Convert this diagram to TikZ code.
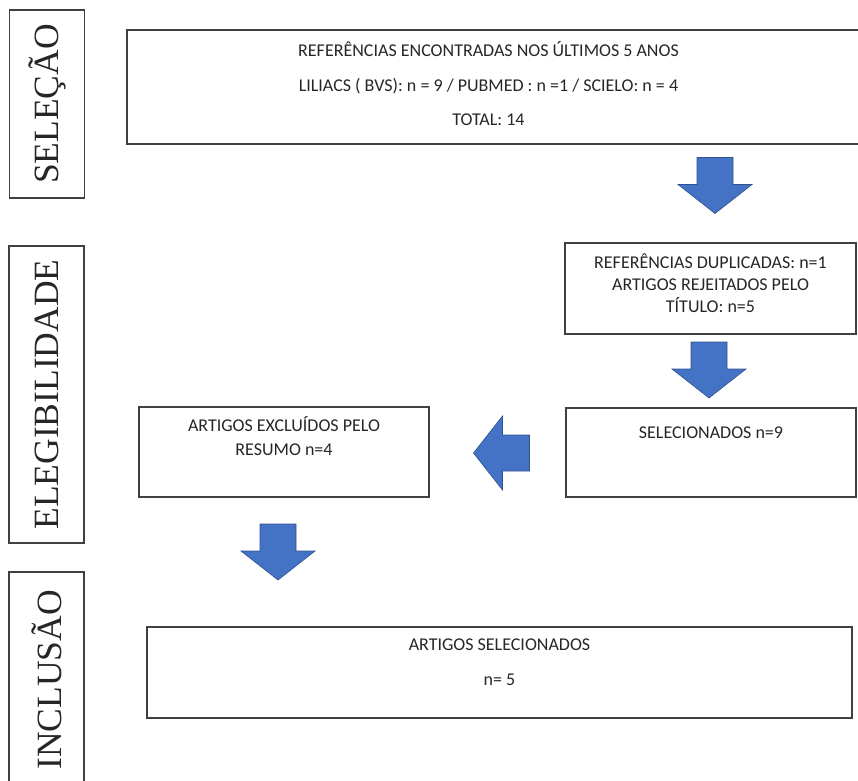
\documentclass[tikz,border=0pt]{standalone}
\usepackage{fontspec}
\setmainfont{Carlito}
\newfontfamily\sidefont{Liberation Serif}
\usepackage{xcolor}
\usepackage{tikz}
\usetikzlibrary{positioning}

\definecolor{boxline}{HTML}{404040}
\definecolor{textgray}{HTML}{262626}
\definecolor{arrowfill}{HTML}{4472C4}
\definecolor{arrowline}{HTML}{2F528F}

\tikzset{
  stagebox/.style={draw=boxline, line width=1.2pt, rotate=90, inner sep=0pt,
    minimum height=75pt, text=textgray, font=\sidefont\fontsize{35.5}{36}\selectfont},
  flowbox/.style={draw=boxline, line width=1.5pt, inner sep=0pt},
  flowtext/.style={align=center, inner sep=0pt, text=textgray,
    font=\fontsize{18}{22}\selectfont},
  blockdown/.pic={
    \filldraw[fill=arrowfill, draw=arrowline, line width=0.6pt]
      (-18,-28) -- (18,-28) -- (18,-1) -- (37,-1) -- (0,28) -- (-37,-1) -- (-18,-1) -- cycle;
  }
}

\begin{document}
\begin{tikzpicture}[x=1pt, y=-1pt]
  \useasboundingbox (0,0) rectangle (858,780);

  % stages on the left
  \node[stagebox, minimum width=188pt] (selecao) at (47,104) {SELEÇÃO};
  \node[stagebox, minimum width=297pt] (elegib) at (46.5,394.5) {ELEGIBILIDADE};
  \node[stagebox, minimum width=216pt] (inclusao) at (46.5,680) {INCLUSÃO};

  % search results
  \node[flowbox, minimum width=735pt, minimum height=114pt] (refs) at (494.5,87) {};
  \node[flowtext, below=12.5pt of refs.north, xshift=-6pt] (refstext)
    {REFERÊNCIAS ENCONTRADAS NOS ÚLTIMOS 5 ANOS\\[12.5pt]
     LILIACS ( BVS): n = 9 / PUBMED : n =1 / SCIELO: n = 4\\[12.5pt]
     TOTAL: 14};

  % eligibility
  \node[flowbox, minimum width=291pt, minimum height=91pt] (dup) at (710.5,288.5) {};
  \node[flowtext, below=11pt of dup.north] (duptext)
    {REFERÊNCIAS DUPLICADAS: n=1\\ ARTIGOS REJEITADOS PELO\\ TÍTULO: n=5};
  \node[flowbox, minimum width=290pt, minimum height=89pt] (sel) at (711,452.5) {};
  \node[flowtext, below=19pt of sel.north] (seltext) {SELECIONADOS n=9};
  \node[flowbox, minimum width=290pt, minimum height=90pt] (exc) at (284,452) {};
  \node[flowtext, below=10pt of exc.north] (exctext)
    {ARTIGOS EXCLUÍDOS PELO\\[2pt] RESUMO n=4};

  % inclusion
  \node[flowbox, minimum width=705pt, minimum height=91pt] (final) at (499.5,672.5) {};
  \node[flowtext, below=12pt of final.north] (finaltext)
    {ARTIGOS SELECIONADOS\\[13pt] n= 5};

  % block arrows
  \pic at (715,185.5) {blockdown};
  \pic at (709,370) {blockdown};
  \pic[rotate=-90] at (501.5,453) {blockdown};
  \pic at (278,552) {blockdown};
\end{tikzpicture}
\end{document}
